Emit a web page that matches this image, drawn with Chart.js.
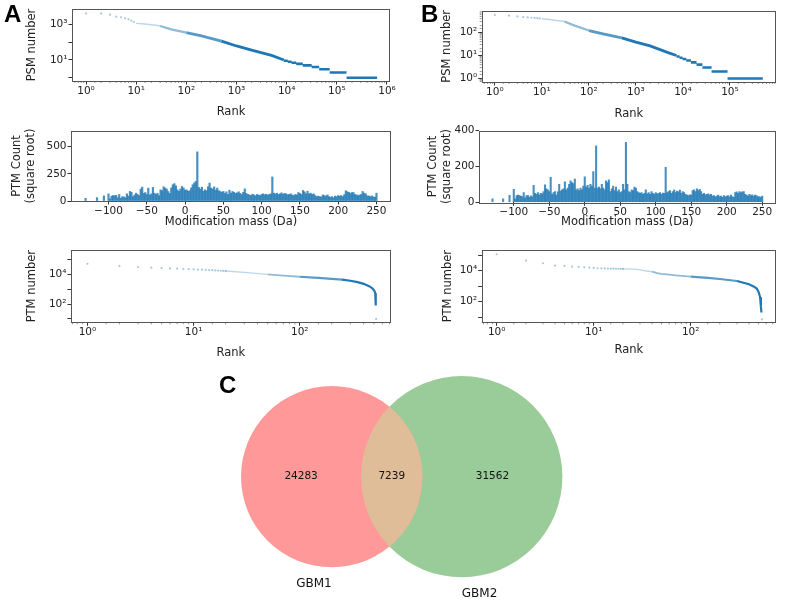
<!DOCTYPE html>
<html><head><meta charset="utf-8">
<script src="https://cdn.jsdelivr.net/npm/chart.js@4.4.1/dist/chart.umd.min.js"></script>
<style>
html,body{margin:0;padding:0;background:#fff;}
#wrap{position:relative;width:785px;height:600px;overflow:hidden;background:#fff;}
#wrap canvas{position:absolute;}
.lbl{position:absolute;font-family:"Liberation Sans",Arial,sans-serif;font-weight:bold;font-size:24px;line-height:24px;color:#000;}
</style></head><body>
<div id="wrap">
<canvas id="psmA"></canvas><canvas id="psmB"></canvas>
<canvas id="histA"></canvas><canvas id="histB"></canvas>
<canvas id="ptmA"></canvas><canvas id="ptmB"></canvas>
<canvas id="venn"></canvas>
<div class="lbl" style="left:4px;top:2px">A</div>
<div class="lbl" style="left:421px;top:2px">B</div>
<div class="lbl" style="left:219px;top:373px">C</div>
</div>
<script>
// ---------------- DATA ----------------
// PSM number vs rank (sparse top ranks shown as dots)
const psmDotRankA  = [1, 2, 3, 4, 5, 6, 7, 8, 9];
const psmDotCountA = [4110, 4100, 3470, 2700, 2500, 2160, 1900, 1600, 1350];
const psmCurveRankA  = [10, 15, 20, 25, 30, 50, 100, 200, 500, 1000, 2000, 5000, 8800];
const psmCurveCountA = [1130, 1040, 950, 880, 800, 520, 340, 227, 115, 61, 36, 18, 10];
const psmStepValueA = [9, 8, 7, 6, 5, 4, 3, 2, 1];
const psmStepStartA = [8800, 10500, 12500, 15500, 21000, 31500, 44500, 72000, 156000];
const psmStepEndA   = [10500, 12500, 15500, 21000, 31500, 44500, 72000, 156000, 635000];

const psmDotRankB  = [1, 2, 3, 4, 5, 6, 7, 8, 9];
const psmDotCountB = [575, 540, 500, 470, 455, 440, 430, 420, 410];
const psmCurveRankB  = [10, 15, 20, 25, 30, 50, 100, 200, 500, 1000, 2000, 5000, 7300];
const psmCurveCountB = [400, 370, 335, 325, 300, 200, 122, 88, 58, 38, 26, 13, 10];
const psmStepValueB = [9, 8, 7, 6, 5, 4, 3, 2, 1];
const psmStepStartB = [7300, 8500, 9800, 11800, 14800, 19500, 26000, 40700, 89000];
const psmStepEndB   = [8500, 9800, 11800, 14800, 19500, 26000, 40700, 89000, 500000];

// PTM count histogram (square root), 2 Da bins from -100 to 250 plus isolated bins
const histOutMassA  = [-130, -115, -106];
const histOutCountA = [25, 31, 47];
const histCountA = [
  66, 20, 45, 50, 48, 52, 30, 60, 25, 40,
  37, 30, 66, 45, 88, 80, 40, 56, 72, 60,
  50, 110, 128, 70, 78, 60, 119, 55, 66, 125,
  72, 60, 72, 50, 103, 95, 131, 120, 110, 88,
  70, 120, 150, 160, 140, 103, 90, 110, 134, 120,
  100, 103, 90, 95, 120, 150, 166, 180, 453, 125,
  110, 128, 90, 103, 95, 131, 165, 119, 110, 130,
  100, 119, 95, 88, 80, 88, 70, 85, 60, 100,
  72, 88, 80, 70, 75, 85, 70, 60, 80, 112,
  70, 60, 56, 50, 62, 56, 48, 60, 55, 50,
  62, 66, 58, 62, 55, 60, 66, 222, 72, 65,
  72, 60, 66, 75, 62, 70, 66, 58, 60, 66,
  56, 50, 60, 56, 78, 70, 60, 97, 85, 66,
  90, 66, 72, 60, 66, 50, 40, 45, 40, 38,
  56, 50, 45, 56, 40, 35, 40, 30, 45, 40,
  50, 45, 50, 40, 58, 94, 85, 80, 70, 78,
  78, 60, 56, 50, 56, 60, 88, 72, 65, 47,
  47, 40, 47, 38, 35, 72];
const histOutMassB  = [-130, -115, -106];
const histOutCountB = [19, 19, 39];
const histCountB = [
  73, 20, 37, 40, 37, 35, 30, 54, 25, 37,
  37, 28, 36, 30, 95, 50, 45, 55, 40, 50,
  48, 60, 97, 75, 70, 60, 140, 45, 55, 60,
  41, 58, 100, 62, 70, 75, 115, 70, 80, 100,
  120, 110, 105, 130, 70, 75, 65, 80, 70, 90,
  142, 85, 95, 80, 100, 90, 172, 80, 316, 80,
  85, 75, 100, 80, 70, 120, 110, 125, 60, 75,
  90, 65, 85, 60, 70, 55, 60, 100, 70, 335,
  100, 60, 55, 70, 65, 85, 80, 60, 55, 50,
  55, 45, 50, 70, 48, 55, 45, 60, 50, 45,
  55, 48, 50, 55, 45, 52, 50, 196, 55, 60,
  65, 50, 60, 70, 55, 62, 58, 68, 50, 60,
  55, 45, 40, 38, 42, 40, 65, 70, 60, 75,
  65, 72, 60, 45, 50, 42, 45, 48, 40, 45,
  35, 38, 30, 35, 40, 32, 35, 28, 38, 30,
  35, 38, 30, 40, 32, 28, 55, 58, 50, 60,
  55, 58, 60, 45, 40, 35, 45, 38, 42, 35,
  40, 38, 30, 32, 28, 35];
const histMass = histCountA.map((_, i) => -100 + 2 * i); // bin centres (categories)

// PTM number vs rank
const ptmDotRankA  = [1, 2, 3, 4, 5, 6, 7, 8, 9, 10, 11, 12, 13, 14, 15, 16, 17, 18, 19, 20, 524];
const ptmDotCountA = [51800, 36000, 31000, 28000, 26000, 25000, 24000, 23000, 22300, 21700,
                      21000, 20500, 20000, 19500, 19000, 18500, 18000, 17500, 17000, 16700, 10];
const ptmCurveRankA  = [20, 30, 50, 70, 100, 150, 200, 250, 300, 350, 400, 450, 480, 500, 510, 515, 518, 520, 522];
const ptmCurveCountA = [16700, 13600, 10000, 8200, 6900, 5800, 5000, 4400, 3700, 3000, 2300, 1600, 1200, 870, 650, 530, 300, 140, 80];

const ptmDotRankB  = [1, 2, 3, 4, 5, 6, 7, 8, 9, 10, 11, 12, 13, 14, 15, 16, 17, 18, 19, 20, 543];
const ptmDotCountB = [113700, 44300, 29900, 21100, 20000, 18100, 17300, 16500, 15700, 14900,
                      14200, 14000, 13800, 13600, 13400, 13300, 13200, 13100, 13000, 12900, 7.2];
const ptmCurveRankB  = [20, 27, 30, 35, 40, 45, 50, 60, 70, 100, 150, 200, 300, 400, 450, 480, 500, 510, 520, 530, 537];
const ptmCurveCountB = [12900, 12500, 11100, 9500, 8500, 7000, 6100, 5600, 5000, 4100, 3400, 2900, 2150, 1320, 930, 700, 445, 300, 190, 48, 20];

// Venn
const vennSets = ['GBM1', 'GBM2'];
const vennCounts = [24283, 7239, 31562]; // GBM1 only, both, GBM2 only

// ---------------- HELPERS ----------------
const FAM = '"DejaVu Sans", "Liberation Sans", sans-serif';
const TICK_FONT = {family: FAM, size: 10.5};
const TITLE_SIZE = 11.5;
const TITLE_FONT = {family: FAM, size: TITLE_SIZE};
const LH = TITLE_SIZE * 1.2;
const TXT = '#222';
const BLUE = '31,119,180';
const rgba = a => `rgba(${BLUE},${a})`;

function place(id, b) {
  const c = document.getElementById(id);
  c.width = b.w; c.height = b.h;
  c.style.left = b.x + 'px'; c.style.top = b.y + 'px';
  c.style.width = b.w + 'px'; c.style.height = b.h + 'px';
  return c;
}
function layoutFor(s) {
  const n = s.yLines || 1;
  const padLeft = s.yTitleX - s.canvas.x - LH / 2 - (n - 1) * LH / 2;
  const yWidth = s.plot.x0 - s.canvas.x - padLeft;
  const padTop = s.plot.y0 - s.canvas.y;
  const padRight = s.canvas.x + s.canvas.w - s.plot.x1;
  const padBottom = s.canvas.y + s.canvas.h - (s.xTitleY + LH / 2);
  const xHeight = s.canvas.y + s.canvas.h - padBottom - s.plot.y1;
  return {padLeft, yWidth, padTop, padRight, padBottom, xHeight};
}
const isPow10 = v => { const l = Math.log10(v); return Math.abs(l - Math.round(l)) < 1e-6; };
// frame around the plot + short minor ticks on log axes
function framePlugin(minor) {
  return {
    id: 'frame',
    afterDraw(chart) {
      const {ctx, chartArea: a} = chart;
      ctx.save();
      ctx.strokeStyle = '#666'; ctx.lineWidth = 0.7;
      ['x', 'y'].forEach(k => {
        if (!minor || !minor[k]) return;
        const s = chart.scales[k];
        s.ticks.forEach(t => {
          if (isPow10(t.value) || t.value <= s.min || t.value >= s.max) return;
          const p = s.getPixelForValue(t.value);
          ctx.beginPath();
          if (k === 'x') { ctx.moveTo(p, a.bottom); ctx.lineTo(p, a.bottom + 2); }
          else { ctx.moveTo(a.left, p); ctx.lineTo(a.left - 2, p); }
          ctx.stroke();
        });
      });
      ctx.strokeStyle = '#555'; ctx.lineWidth = 1;
      ctx.strokeRect(Math.round(a.left) + 0.5, Math.round(a.top) + 0.5,
                     Math.round(a.right - a.left) - 1, Math.round(a.bottom - a.top));
      ctx.restore();
    }
  };
}
const SUP = {'0':'⁰','1':'¹','2':'²','3':'³','4':'⁴','5':'⁵','6':'⁶','7':'⁷','8':'⁸','9':'⁹','-':'⁻'};
const powLabel = v => '10' + String(Math.round(Math.log10(v))).split('').map(c => SUP[c]).join('');
const fmtLin = v => (v < 0 ? '\u2212' + Math.abs(v) : String(v));

function logAxis(min, max, title, o, L, isX) {
  return {
    type: 'logarithmic', min, max,
    border: {display: false},
    grid: {
      drawOnChartArea: false, drawTicks: true, tickLength: 3.5,
      tickColor: c => (c.tick && isPow10(c.tick.value)) ? '#333' : 'rgba(0,0,0,0)',
      tickWidth: 1
    },
    ticks: {
      autoSkip: false, maxRotation: 0, minRotation: 0, font: TICK_FONT, color: TXT, padding: isX ? 0 : 1,
      callback: v => {
        if (!isPow10(v)) return '';
        const e = Math.round(Math.log10(v));
        if (o.every === 2 && (((e % 2) + 2) % 2) !== o.parity) return '';
        return powLabel(v);
      }
    },
    title: {display: true, text: title, font: TITLE_FONT, color: TXT, padding: 0},
    afterFit: s => { if (isX) s.height = L.xHeight; else s.width = L.yWidth; }
  };
}
function linAxis(min, max, step, title, L, isX) {
  return {
    type: 'linear', min, max, offset: false,
    border: {display: false},
    grid: {drawOnChartArea: false, drawTicks: true, tickLength: 3.5, tickColor: '#333', offset: false},
    ticks: {
      stepSize: step, includeBounds: false, autoSkip: false, maxRotation: 0, minRotation: 0,
      font: TICK_FONT, color: TXT, padding: isX ? 0 : 1,
      callback: v => fmtLin(v)
    },
    title: {display: true, text: title, font: TITLE_FONT, color: TXT, padding: 0},
    afterFit: s => { if (isX) s.height = L.xHeight; else s.width = L.yWidth; }
  };
}
const zip = (xs, ys) => xs.map((x, i) => ({x, y: ys[i]}));
function stepPoints(vals, starts, ends) {
  const out = [];
  vals.forEach((v, i) => { out.push({x: starts[i], y: v}, {x: ends[i], y: v}, {x: ends[i], y: null}); });
  return out;
}
const baseOpts = L => ({
  responsive: false, animation: false, events: [],
  layout: {padding: {left: L.padLeft, right: L.padRight, top: L.padTop, bottom: L.padBottom}},
  plugins: {legend: {display: false}, tooltip: {enabled: false}}
});

function rankChart(id, spec, d) {
  const L = layoutFor(spec);
  const cv = place(id, spec.canvas);
  const datasets = [
    {data: zip(d.dotRank, d.dotCount), showLine: false, pointRadius: 1.1, pointHoverRadius: 0,
     pointBackgroundColor: rgba(0.4), pointBorderWidth: 0},
    {data: zip(d.curveRank, d.curveCount), showLine: true, pointRadius: 0, pointHoverRadius: 0,
     borderColor: rgba(1), borderWidth: 2.6, borderCapStyle: 'butt',
     segment: {borderColor: c => rgba(d.alpha(c.p0.parsed.x)), borderWidth: c => d.width(c.p0.parsed.x)}}
  ];
  if (d.stepVal) datasets.push({data: stepPoints(d.stepVal, d.stepStart, d.stepEnd), showLine: true,
    spanGaps: false, pointRadius: 0, pointHoverRadius: 0, borderColor: rgba(1), borderWidth: 2.6, borderCapStyle: 'butt'});
  const opts = baseOpts(L);
  opts.scales = {
    x: logAxis(d.xMin, d.xMax, 'Rank', d.xo, L, true),
    y: logAxis(d.yMin, d.yMax, d.yTitle, d.yo, L, false)
  };
  new Chart(cv, {type: 'scatter', data: {datasets}, options: opts,
    plugins: [framePlugin({x: d.xo.minor, y: d.yo.minor})]});
}

function histChart(id, spec, d) {
  const L = layoutFor(spec);
  const cv = place(id, spec.canvas);
  const pts = zip(d.outMass, d.outCount).concat(zip(histMass, d.counts));
  const opts = baseOpts(L);
  opts.scales = {
    x: linAxis(-149, 269, 50, 'Modification mass (Da)', L, true),
    y: linAxis(0, d.yMax, d.yStep, ['PTM Count', '(square root)'], L, false)
  };
  new Chart(cv, {type: 'bar', data: {datasets: [{data: pts, backgroundColor: rgba(0.82), borderWidth: 0,
    barPercentage: 1, categoryPercentage: 1}]}, options: opts, plugins: [framePlugin(null)]});
}

// ---------------- CHARTS ----------------
const psmAlpha = x => x < 30 ? 0.3 : x < 100 ? 0.5 : x < 300 ? 0.75 : 1;
const psmWidth = x => x < 30 ? 1.4 : x < 100 ? 2.2 : 2.8;
rankChart('psmA', {canvas: {x: 0, y: 0, w: 400, h: 124}, plot: {x0: 72, y0: 9, x1: 390, y1: 81}, yTitleX: 32, xTitleY: 112.5}, {
  dotRank: psmDotRankA, dotCount: psmDotCountA, curveRank: psmCurveRankA, curveCount: psmCurveCountA,
  stepVal: psmStepValueA, stepStart: psmStepStartA, stepEnd: psmStepEndA,
  alpha: psmAlpha, width: psmWidth,
  xMin: Math.pow(10, -0.28), xMax: Math.pow(10, 6.06), yMin: Math.pow(10, -0.18), yMax: Math.pow(10, 3.86),
  xo: {minor: true, every: 1}, yo: {minor: false, every: 2, parity: 1}, yTitle: 'PSM number'
});
rankChart('psmB', {canvas: {x: 400, y: 0, w: 385, h: 124}, plot: {x0: 481.7, y0: 10.7, x1: 776, y1: 82}, yTitleX: 446.7, xTitleY: 114}, {
  dotRank: psmDotRankB, dotCount: psmDotCountB, curveRank: psmCurveRankB, curveCount: psmCurveCountB,
  stepVal: psmStepValueB, stepStart: psmStepStartB, stepEnd: psmStepEndB,
  alpha: psmAlpha, width: psmWidth,
  xMin: Math.pow(10, -0.28), xMax: Math.pow(10, 5.98), yMin: Math.pow(10, -0.13), yMax: Math.pow(10, 2.95),
  xo: {minor: true, every: 1}, yo: {minor: true, every: 1}, yTitle: 'PSM number'
});
histChart('histA', {canvas: {x: 0, y: 122, w: 400, h: 112}, plot: {x0: 71, y0: 131, x1: 391, y1: 201}, yTitleX: 24, xTitleY: 222, yLines: 2}, {
  outMass: histOutMassA, outCount: histOutCountA, counts: histCountA, yMax: 645, yStep: 250
});
histChart('histB', {canvas: {x: 400, y: 122, w: 385, h: 112}, plot: {x0: 479, y0: 130.7, x1: 775.7, y1: 202.3}, yTitleX: 440, xTitleY: 222, yLines: 2}, {
  outMass: histOutMassB, outCount: histOutCountB, counts: histCountB, yMax: 400, yStep: 200
});
const ptmAlpha = x => x < 40 ? 0.3 : x < 100 ? 0.5 : x < 250 ? 0.75 : 1;
const ptmWidth = x => x < 40 ? 1.4 : x < 100 ? 1.8 : 2.2;
rankChart('ptmA', {canvas: {x: 0, y: 236, w: 400, h: 124}, plot: {x0: 71, y0: 250, x1: 390.7, y1: 322.3}, yTitleX: 32, xTitleY: 353}, {
  dotRank: ptmDotRankA, dotCount: ptmDotCountA, curveRank: ptmCurveRankA, curveCount: ptmCurveCountA,
  alpha: ptmAlpha, width: ptmWidth,
  xMin: Math.pow(10, -0.14), xMax: Math.pow(10, 2.857), yMin: Math.pow(10, 0.77), yMax: Math.pow(10, 5.64),
  xo: {minor: true, every: 1}, yo: {minor: false, every: 2, parity: 0}, yTitle: 'PTM number'
});
rankChart('ptmB', {canvas: {x: 400, y: 236, w: 385, h: 124}, plot: {x0: 481.7, y0: 250, x1: 776, y1: 322.3}, yTitleX: 447.7, xTitleY: 350}, {
  dotRank: ptmDotRankB, dotCount: ptmDotCountB, curveRank: ptmCurveRankB, curveCount: ptmCurveCountB,
  alpha: ptmAlpha, width: ptmWidth,
  xMin: Math.pow(10, -0.137), xMax: Math.pow(10, 2.88), yMin: Math.pow(10, 0.67), yMax: Math.pow(10, 5.33),
  xo: {minor: true, every: 1}, yo: {minor: false, every: 2, parity: 0}, yTitle: 'PTM number'
});

// ---------------- VENN ----------------
(function () {
  const r1 = Math.sqrt((vennCounts[0] + vennCounts[1]) / Math.PI);
  const r2 = Math.sqrt((vennCounts[2] + vennCounts[1]) / Math.PI);
  const lens = d => {
    const a1 = Math.acos((d * d + r1 * r1 - r2 * r2) / (2 * d * r1));
    const a2 = Math.acos((d * d + r2 * r2 - r1 * r1) / (2 * d * r2));
    const k = Math.sqrt((-d + r1 + r2) * (d + r1 - r2) * (d - r1 + r2) * (d + r1 + r2));
    return r1 * r1 * a1 + r2 * r2 * a2 - 0.5 * k;
  };
  let lo = Math.abs(r1 - r2) + 1e-6, hi = r1 + r2 - 1e-6;
  for (let i = 0; i < 80; i++) { const m = (lo + hi) / 2; if (lens(m) > vennCounts[1]) lo = m; else hi = m; }
  const d = (lo + hi) / 2;
  const cv = place('venn', {x: 220, y: 370, w: 380, h: 230});
  const pxR = (chart, r) => chart.scales.x.getPixelForValue(r) - chart.scales.x.getPixelForValue(0);
  const colA = '#ff9999', colAB = '#e0bd99', colB = '#99cc99';
  const vennPlugin = {
    id: 'vennText',
    afterDatasetsDraw(chart) {
      const {ctx} = chart, xs = chart.scales.x, ys = chart.scales.y;
      const px = v => xs.getPixelForValue(v), py = v => ys.getPixelForValue(v);
      const k = px(1) - px(0);
      ctx.save();
      ctx.beginPath(); ctx.arc(px(0), py(0), r1 * k, 0, 2 * Math.PI); ctx.clip();
      ctx.beginPath(); ctx.arc(px(d), py(0), r2 * k, 0, 2 * Math.PI);
      ctx.fillStyle = colAB; ctx.fill();
      ctx.restore();
      ctx.save();
      ctx.fillStyle = '#111';
      ctx.font = '10.5px ' + FAM; ctx.textAlign = 'center'; ctx.textBaseline = 'middle';
      const xa = (-r1 + (d - r2)) / 2, xab = ((d - r2) + r1) / 2, xb = (r1 + d + r2) / 2;
      ctx.fillText(String(vennCounts[0]), px(xa), py(0));
      ctx.fillText(String(vennCounts[1]), px(xab), py(0));
      ctx.fillText(String(vennCounts[2]), px(xb), py(0));
      ctx.font = '12px ' + FAM; ctx.textBaseline = 'alphabetic';
      ctx.textAlign = 'right'; ctx.fillText(vennSets[0], px(0), py(-r1 - 22));
      ctx.textAlign = 'left'; ctx.fillText(vennSets[1], px(d), py(-r2 - 22));
      ctx.restore();
    }
  };
  new Chart(cv, {
    type: 'scatter',
    data: {datasets: [
      {data: [{x: 0, y: 0}], pointRadius: c => pxR(c.chart, r1), pointHoverRadius: 0, pointBackgroundColor: colA, pointBorderWidth: 0, clip: false},
      {data: [{x: d, y: 0}], pointRadius: c => pxR(c.chart, r2), pointHoverRadius: 0, pointBackgroundColor: colB, pointBorderWidth: 0, clip: false}
    ]},
    options: {
      responsive: false, animation: false, events: [],
      layout: {padding: 0},
      plugins: {legend: {display: false}, tooltip: {enabled: false}},
      scales: {
        x: {type: 'linear', display: false, min: -123.4, max: 296.3},
        y: {type: 'linear', display: false, min: -136.2, max: 117.8}
      }
    },
    plugins: [vennPlugin]
  });
})();
</script>
</body></html>
